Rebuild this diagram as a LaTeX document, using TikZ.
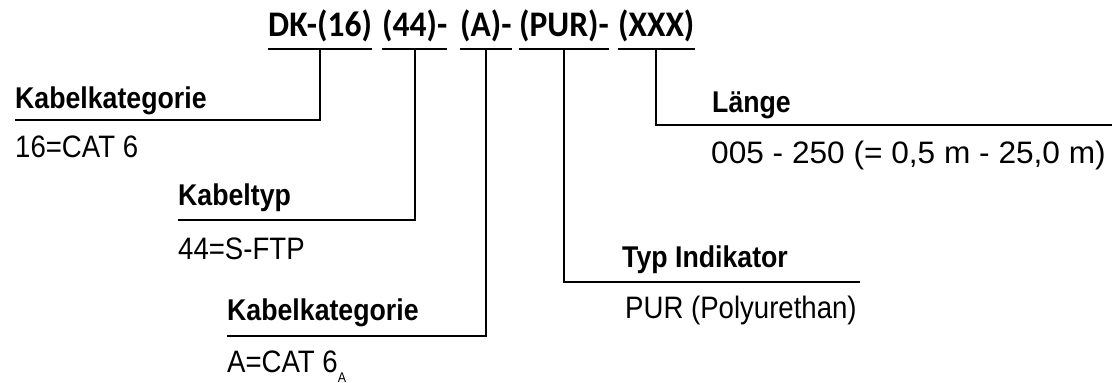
\documentclass[tikz,border=0pt]{standalone}
\usepackage{fontspec}
\usetikzlibrary{calc}
\newfontfamily\titlefont{Carlito}[FakeStretch=0.93]
\newfontfamily\labfont{Liberation Sans}[FakeStretch=0.89]
\newfontfamily\labwide{Liberation Sans}[FakeStretch=1.02]
\begin{document}
\begin{tikzpicture}[x=1pt,y=-1pt,
  ttl/.style={inner sep=0pt,anchor=base west,font=\titlefont\bfseries\fontsize{36}{36}\selectfont},
  hd/.style={inner sep=0pt,anchor=base west,font=\labfont\bfseries\fontsize{30}{30}\selectfont},
  val/.style={inner sep=0pt,anchor=base west,font=\labfont\fontsize{31}{31}\selectfont},
  valw/.style={inner sep=0pt,anchor=base west,font=\labwide\fontsize{31}{31}\selectfont},
  uline/.style={line width=2pt},
  conn/.style={line width=2.4pt}]
\useasboundingbox (0,0) rectangle (1112,383);
% title chunks
\node[ttl] (t1) at (268,36) {DK-(16)};
\node[ttl] (t2) at (382,36) {(44)-};
\node[ttl] (t3) at (460,36) {(A)-};
\node[ttl] (t4) at (519,36) {(PUR)-};
\node[ttl] (t5) at (618,36) {(XXX)};
\foreach \i in {1,...,5}{
  \coordinate (a\i) at ([yshift=-13pt]t\i.base west);
  \coordinate (b\i) at ([yshift=-13pt]t\i.base east);
  \coordinate (u\i) at ($(a\i)!0.5!(b\i)$);
  \draw[uline] (a\i) -- (b\i);
}
% labels
\node[hd] (h1) at (15,108) {Kabelkategorie};
\node[val] (v1) at (15,157) {16=CAT 6};
\node[hd] (h2) at (178,205) {Kabeltyp};
\node[val] (v2) at (178,259) {44=S-FTP};
\node[hd] (h3) at (227,320) {Kabelkategorie};
\node[val] (v3) at (227,372) {A=CAT 6\raisebox{-10pt}{\fontsize{14}{14}\selectfont A}};
\node[hd] (h4) at (622,267) {Typ Indikator};
\node[val] (v4) at (625,318) {PUR (Polyurethan)};
\node[hd] (h5) at (712,112) {Länge};
\node[valw] (v5) at (711,163) {005 - 250 (= 0,5 m - 25,0 m)};
% line ends
\coordinate (e1) at (15,120);
\coordinate (e2) at (178,220);
\coordinate (e3) at (227,336);
\coordinate (e4) at (860,282);
\coordinate (e5) at (1112,125);
\foreach \i in {1,...,5}{
  \draw[conn] (u\i) |- (e\i);
}
\end{tikzpicture}
\end{document}
